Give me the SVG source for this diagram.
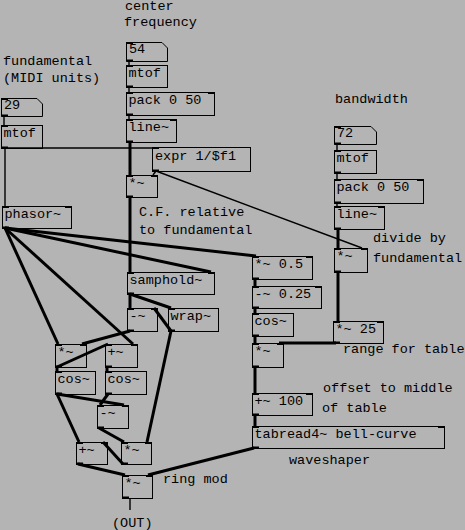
<svg xmlns="http://www.w3.org/2000/svg" width="465" height="530" viewBox="0 0 465 530">
<style>
.bg{fill:#b4b4b4}
.b{fill:none;stroke:#000;stroke-width:1}
.t{font-family:"Liberation Mono","DejaVu Sans Mono",monospace;font-size:13.5px;fill:#000}
.n{fill:#000}
.c{stroke:#000;stroke-width:1.4;fill:none}
.s{stroke:#000;stroke-width:3;fill:none}
</style>
<rect class="bg" x="0" y="0" width="465" height="530"/>
<g id="labels">
<text class="t" x="125" y="10">center</text>
<text class="t" x="124" y="26">frequency</text>
<text class="t" x="3" y="65">fundamental</text>
<text class="t" x="3" y="82">(MIDI units)</text>
<text class="t" x="335" y="103">bandwidth</text>
<text class="t" x="139" y="216">C.F. relative</text>
<text class="t" x="139" y="234">to fundamental</text>
<text class="t" x="373" y="242">divide by</text>
<text class="t" x="373" y="262">fundamental</text>
<text class="t" x="343" y="353">range for table</text>
<text class="t" x="323" y="392">offset to middle</text>
<text class="t" x="322" y="412">of table</text>
<text class="t" x="289" y="464">waveshaper</text>
<text class="t" x="163" y="483">ring mod</text>
<text class="t" x="112" y="527">(OUT)</text>
</g>
<g id="connections">
<line class="c" x1="129" y1="61" x2="129" y2="65"/>
<line class="c" x1="129" y1="87" x2="129" y2="92"/>
<line class="c" x1="129" y1="115" x2="129" y2="119"/>
<line class="c" x1="4" y1="116" x2="4" y2="125"/>
<line class="c" x1="5" y1="148" x2="5" y2="206"/>
<line class="c" x1="4" y1="148" x2="154" y2="148"/>
<line class="c" x1="156" y1="171" x2="153" y2="175"/>
<line class="c" x1="156" y1="171" x2="362" y2="248"/>
<line class="c" x1="337" y1="144" x2="337" y2="150"/>
<line class="c" x1="337" y1="173" x2="337" y2="179"/>
<line class="c" x1="337" y1="203" x2="337" y2="206"/>
<line class="c" x1="130" y1="498" x2="130" y2="510"/>
<line class="s" x1="130" y1="142" x2="130" y2="175"/>
<line class="s" x1="130" y1="197" x2="130" y2="272"/>
<line class="s" x1="5" y1="228" x2="256" y2="256"/>
<line class="s" x1="5" y1="228" x2="211" y2="272"/>
<line class="s" x1="5" y1="228" x2="58" y2="344"/>
<line class="s" x1="5" y1="228" x2="133" y2="344"/>
<line class="s" x1="130" y1="294" x2="130" y2="308"/>
<line class="s" x1="130" y1="294" x2="171" y2="308"/>
<line class="s" x1="171" y1="331" x2="154" y2="308"/>
<line class="s" x1="171" y1="331" x2="147" y2="442"/>
<line class="s" x1="130" y1="331" x2="82" y2="344"/>
<line class="s" x1="57" y1="367" x2="108" y2="344"/>
<line class="s" x1="57" y1="367" x2="57" y2="371"/>
<line class="s" x1="107" y1="367" x2="107" y2="371"/>
<line class="s" x1="57" y1="394" x2="124" y2="405"/>
<line class="s" x1="108" y1="394" x2="100" y2="405"/>
<line class="s" x1="57" y1="394" x2="79" y2="442"/>
<line class="s" x1="99" y1="428" x2="124" y2="442"/>
<line class="s" x1="123" y1="464" x2="103" y2="442"/>
<line class="s" x1="78" y1="464" x2="125" y2="475"/>
<line class="s" x1="254" y1="448" x2="148" y2="475"/>
<line class="s" x1="338" y1="229" x2="338" y2="248"/>
<line class="s" x1="338" y1="272" x2="338" y2="321"/>
<line class="s" x1="336" y1="343" x2="279" y2="343"/>
<line class="s" x1="255" y1="279" x2="255" y2="286"/>
<line class="s" x1="255" y1="308" x2="255" y2="313"/>
<line class="s" x1="255" y1="336" x2="255" y2="343"/>
<line class="s" x1="255" y1="367" x2="255" y2="393"/>
<line class="s" x1="255" y1="415" x2="255" y2="426"/>
</g>
<g id="n54"><path class="b" d="M126.5,42.5H162L167.5,48V61.5H126.5Z"/><rect class="n" x="126" y="42" width="7" height="2"/><rect class="n" x="126" y="59.5" width="7" height="2"/><text class="t" x="129" y="53">54</text></g>
<g id="n29"><path class="b" d="M1.5,98.5H37L42.5,104V116.5H1.5Z"/><rect class="n" x="1" y="98" width="7" height="2"/><rect class="n" x="1" y="114.5" width="7" height="2"/><text class="t" x="4" y="109">29</text></g>
<g id="n72"><path class="b" d="M334.5,126.5H371L376.5,132V144.5H334.5Z"/><rect class="n" x="334" y="126" width="7" height="2"/><rect class="n" x="334" y="142.5" width="7" height="2"/><text class="t" x="337" y="137">72</text></g>
<g id="mtof1"><rect class="b" x="126.5" y="65.5" width="41" height="22"/><rect class="n" x="126" y="65" width="7" height="2"/><rect class="n" x="126" y="85.5" width="7" height="2"/><text class="t" x="128.5" y="77">mtof</text></g>
<g id="pack1"><rect class="b" x="126.5" y="92.5" width="88" height="23"/><rect class="n" x="126" y="92" width="7" height="2"/><rect class="n" x="208" y="92" width="7" height="2"/><rect class="n" x="126" y="113.5" width="7" height="2"/><text class="t" x="128.5" y="104">pack 0 50</text></g>
<g id="line1"><rect class="b" x="126.5" y="119.5" width="50" height="23"/><rect class="n" x="126" y="119" width="7" height="2"/><rect class="n" x="170" y="119" width="7" height="2"/><rect class="n" x="126" y="140.5" width="7" height="2"/><text class="t" x="128.5" y="131">line~</text></g>
<g id="mtof2"><rect class="b" x="1.5" y="125.5" width="41" height="23"/><rect class="n" x="1" y="125" width="7" height="2"/><rect class="n" x="1" y="146.5" width="7" height="2"/><text class="t" x="3.5" y="137">mtof</text></g>
<g id="expr"><rect class="b" x="152.5" y="147.5" width="98" height="24"/><rect class="n" x="152" y="147" width="7" height="2"/><rect class="n" x="152" y="169.5" width="7" height="2"/><text class="t" x="155" y="160">expr 1/$f1</text></g>
<g id="mulC"><rect class="b" x="126.5" y="175.5" width="31" height="22"/><rect class="n" x="126" y="175" width="7" height="2"/><rect class="n" x="151" y="175" width="7" height="2"/><rect class="n" x="126" y="195.5" width="7" height="2"/><text class="t" x="128.5" y="187">*~</text></g>
<g id="phasor"><rect class="b" x="2.5" y="206.5" width="69" height="22"/><rect class="n" x="2" y="206" width="7" height="2"/><rect class="n" x="65" y="206" width="7" height="2"/><rect class="n" x="2" y="226.5" width="7" height="2"/><text class="t" x="4.5" y="218">phasor~</text></g>
<g id="samphold"><rect class="b" x="127.5" y="272.5" width="87" height="22"/><rect class="n" x="127" y="272" width="7" height="2"/><rect class="n" x="208" y="272" width="7" height="2"/><rect class="n" x="127" y="292.5" width="7" height="2"/><text class="t" x="129.5" y="284">samphold~</text></g>
<g id="sub1"><rect class="b" x="127.5" y="308.5" width="30" height="23"/><rect class="n" x="127" y="308" width="7" height="2"/><rect class="n" x="151" y="308" width="7" height="2"/><rect class="n" x="127" y="329.5" width="7" height="2"/><text class="t" x="129.5" y="320">-~</text></g>
<g id="wrap"><rect class="b" x="168.5" y="308.5" width="50" height="23"/><rect class="n" x="168" y="308" width="7" height="2"/><rect class="n" x="168" y="329.5" width="7" height="2"/><text class="t" x="170.5" y="320">wrap~</text></g>
<g id="mulL"><rect class="b" x="55.5" y="344.5" width="31" height="23"/><rect class="n" x="55" y="344" width="7" height="2"/><rect class="n" x="80" y="344" width="7" height="2"/><rect class="n" x="55" y="365.5" width="7" height="2"/><text class="t" x="57.5" y="356">*~</text></g>
<g id="addL"><rect class="b" x="105.5" y="344.5" width="32" height="23"/><rect class="n" x="105" y="344" width="7" height="2"/><rect class="n" x="131" y="344" width="7" height="2"/><rect class="n" x="105" y="365.5" width="7" height="2"/><text class="t" x="107.5" y="356">+~</text></g>
<g id="cosL"><rect class="b" x="55.5" y="371.5" width="40" height="23"/><rect class="n" x="55" y="371" width="7" height="2"/><rect class="n" x="55" y="392.5" width="7" height="2"/><text class="t" x="57.5" y="383">cos~</text></g>
<g id="cosR"><rect class="b" x="105.5" y="371.5" width="41" height="23"/><rect class="n" x="105" y="371" width="7" height="2"/><rect class="n" x="105" y="392.5" width="7" height="2"/><text class="t" x="107.5" y="383">cos~</text></g>
<g id="sub2"><rect class="b" x="97.5" y="405.5" width="31" height="23"/><rect class="n" x="97" y="405" width="7" height="2"/><rect class="n" x="122" y="405" width="7" height="2"/><rect class="n" x="97" y="426.5" width="7" height="2"/><text class="t" x="99.5" y="417">-~</text></g>
<g id="add2"><rect class="b" x="76.5" y="442.5" width="31" height="22"/><rect class="n" x="76" y="442" width="7" height="2"/><rect class="n" x="101" y="442" width="7" height="2"/><rect class="n" x="76" y="462.5" width="7" height="2"/><text class="t" x="78.5" y="454">+~</text></g>
<g id="mul2"><rect class="b" x="121.5" y="442.5" width="30" height="22"/><rect class="n" x="121" y="442" width="7" height="2"/><rect class="n" x="145" y="442" width="7" height="2"/><rect class="n" x="121" y="462.5" width="7" height="2"/><text class="t" x="123.5" y="454">*~</text></g>
<g id="ring"><rect class="b" x="122.5" y="475.5" width="30" height="23"/><rect class="n" x="122" y="475" width="7" height="2"/><rect class="n" x="146" y="475" width="7" height="2"/><rect class="n" x="122" y="496.5" width="7" height="2"/><text class="t" x="124.5" y="487">*~</text></g>
<g id="mtof3"><rect class="b" x="334.5" y="150.5" width="42" height="23"/><rect class="n" x="334" y="150" width="7" height="2"/><rect class="n" x="334" y="171.5" width="7" height="2"/><text class="t" x="336.5" y="162">mtof</text></g>
<g id="pack3"><rect class="b" x="334.5" y="179.5" width="89" height="24"/><rect class="n" x="334" y="179" width="7" height="2"/><rect class="n" x="417" y="179" width="7" height="2"/><rect class="n" x="334" y="201.5" width="7" height="2"/><text class="t" x="336.5" y="191">pack 0 50</text></g>
<g id="line3"><rect class="b" x="334.5" y="206.5" width="50" height="23"/><rect class="n" x="334" y="206" width="7" height="2"/><rect class="n" x="378" y="206" width="7" height="2"/><rect class="n" x="334" y="227.5" width="7" height="2"/><text class="t" x="336.5" y="218">line~</text></g>
<g id="mulB"><rect class="b" x="334.5" y="248.5" width="33" height="24"/><rect class="n" x="334" y="248" width="7" height="2"/><rect class="n" x="361" y="248" width="7" height="2"/><rect class="n" x="334" y="270.5" width="7" height="2"/><text class="t" x="336.5" y="260">*~</text></g>
<g id="m05"><rect class="b" x="252.5" y="256.5" width="60" height="23"/><rect class="n" x="252" y="256" width="7" height="2"/><rect class="n" x="306" y="256" width="7" height="2"/><rect class="n" x="252" y="277.5" width="7" height="2"/><text class="t" x="254.5" y="268">*~ 0.5</text></g>
<g id="s025"><rect class="b" x="252.5" y="286.5" width="69" height="22"/><rect class="n" x="252" y="286" width="7" height="2"/><rect class="n" x="315" y="286" width="7" height="2"/><rect class="n" x="252" y="306.5" width="7" height="2"/><text class="t" x="254.5" y="298">-~ 0.25</text></g>
<g id="cos3"><rect class="b" x="252.5" y="313.5" width="41" height="23"/><rect class="n" x="252" y="313" width="7" height="2"/><rect class="n" x="252" y="334.5" width="7" height="2"/><text class="t" x="254.5" y="325">cos~</text></g>
<g id="mul3"><rect class="b" x="252.5" y="343.5" width="31" height="24"/><rect class="n" x="252" y="343" width="7" height="2"/><rect class="n" x="277" y="343" width="7" height="2"/><rect class="n" x="252" y="365.5" width="7" height="2"/><text class="t" x="254.5" y="355">*~</text></g>
<g id="m25"><rect class="b" x="333.5" y="321.5" width="50" height="22"/><rect class="n" x="333" y="321" width="7" height="2"/><rect class="n" x="377" y="321" width="7" height="2"/><rect class="n" x="333" y="341.5" width="7" height="2"/><text class="t" x="335.5" y="333">*~ 25</text></g>
<g id="add100"><rect class="b" x="252.5" y="393.5" width="60" height="22"/><rect class="n" x="252" y="393" width="7" height="2"/><rect class="n" x="306" y="393" width="7" height="2"/><rect class="n" x="252" y="413.5" width="7" height="2"/><text class="t" x="254.5" y="405">+~ 100</text></g>
<g id="tab"><rect class="b" x="252.5" y="426.5" width="192" height="22"/><rect class="n" x="252" y="426" width="7" height="2"/><rect class="n" x="438" y="426" width="7" height="2"/><rect class="n" x="252" y="446.5" width="7" height="2"/><text class="t" x="254.5" y="438">tabread4~ bell-curve</text></g>
</svg>
